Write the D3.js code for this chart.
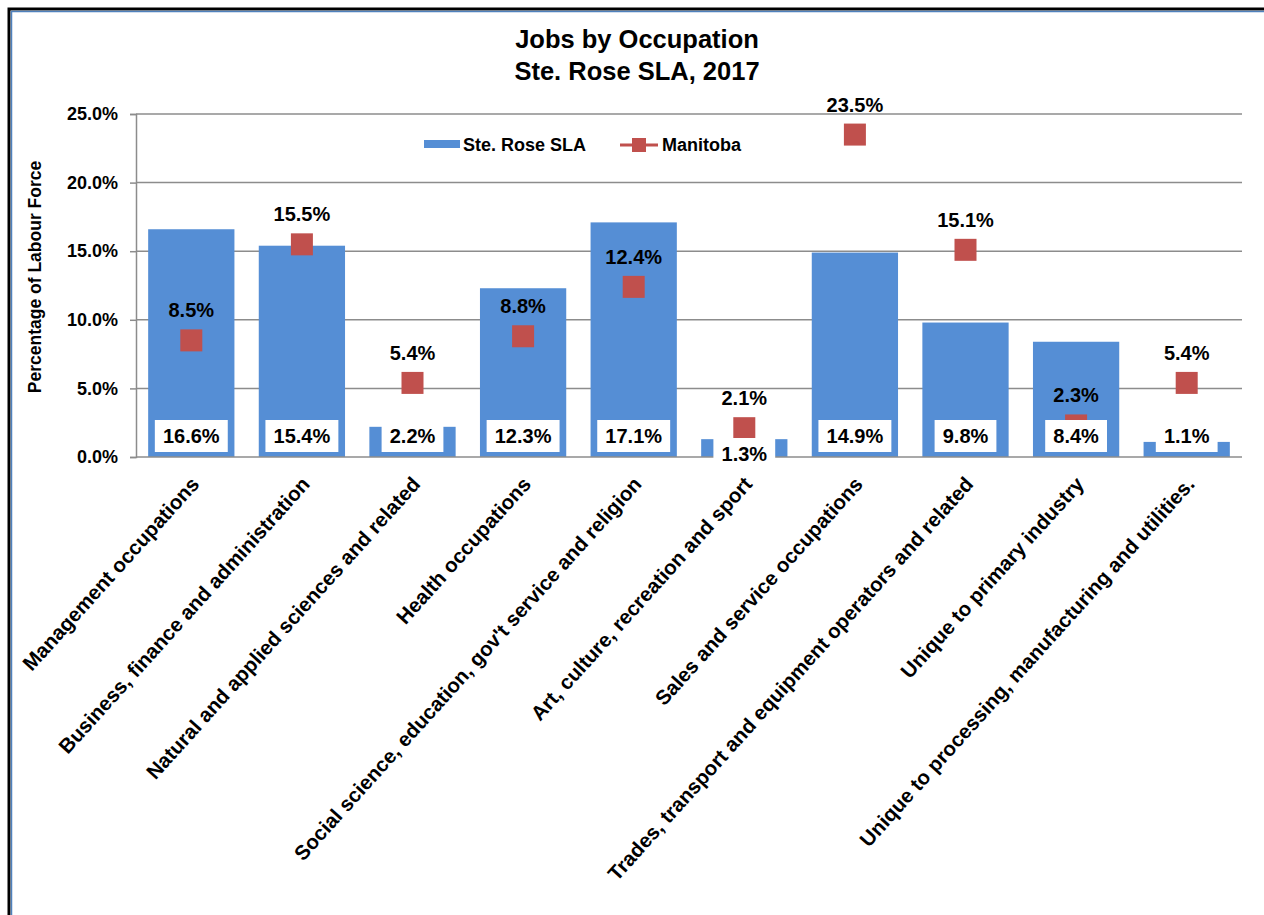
<!DOCTYPE html>
<html><head><meta charset="utf-8">
<script src="https://cdn.jsdelivr.net/npm/d3@7"></script>
<style>body{margin:0;background:#fff}svg{display:block}text{font-family:"Liberation Sans",Arial,sans-serif;font-weight:bold;fill:#000}</style>
</head><body>
<script>
const categories = ["Management occupations","Business, finance and administration","Natural and applied sciences and related","Health occupations","Social science, education, gov't service and religion","Art, culture, recreation and sport","Sales and service occupations","Trades, transport and equipment operators and related","Unique to primary industry","Unique to processing, manufacturing and utilities."];
const steRose = [16.6,15.4,2.2,12.3,17.1,1.3,14.9,9.8,8.4,1.1];
const manitoba = [8.5,15.5,5.4,8.8,12.4,2.1,23.5,15.1,2.3,5.4];
const yTicks = [0,5,10,15,20,25];
const seriesNames = ["Ste. Rose SLA","Manitoba"];
const titleLines = ["Jobs by Occupation","Ste. Rose SLA, 2017"];
const yTitle = "Percentage of Labour Force";

const W=1264,H=915;
const svg=d3.select("body").append("svg").attr("width",W).attr("height",H);
const m={l:136,r:1242,t:114,b:457};
const x=d3.scaleBand().domain(categories).range([m.l,m.r]).paddingInner(0.22).paddingOuter(0.11);
const y=d3.scaleLinear().domain([0,25]).range([m.b,m.t]);
const fmt=v=>v.toFixed(1)+"%";

// border
svg.append("path").attr("d",`M9,${H+5}V9H${W+5}`).attr("fill","none").attr("stroke","#000").attr("stroke-width",3);
svg.append("path").attr("d",`M11.5,${H+5}V11.5H${W+5}`).attr("fill","none").attr("stroke","#4f81bd").attr("stroke-width",1.5);

// title
svg.append("text").attr("x",637).attr("y",48).attr("text-anchor","middle").style("font-size","25.5px").text(titleLines[0]);
svg.append("text").attr("x",637).attr("y",80).attr("text-anchor","middle").style("font-size","25.5px").text(titleLines[1]);

// grid
const grid=svg.append("g");
grid.selectAll("line").data(yTicks.filter(d=>d>0)).join("line")
 .attr("x1",m.l).attr("x2",m.r).attr("y1",d=>y(d)).attr("y2",d=>y(d))
 .attr("stroke","#8c8c8c").attr("stroke-width",1.5);

// y axis
const ya=svg.append("g").attr("transform",`translate(${m.l},0)`)
 .call(d3.axisLeft(y).tickValues(yTicks).tickFormat(fmt).tickSize(6).tickPadding(12));
ya.select(".domain").attr("stroke","#8c8c8c").attr("stroke-width",1.5);
ya.selectAll(".tick line").attr("stroke","#8c8c8c").attr("stroke-width",1.5);
ya.selectAll(".tick text").style("font-size","18px").style("font-family","'Liberation Sans',Arial,sans-serif").style("font-weight","bold").attr("fill","#000");

svg.append("text").attr("transform",`translate(41,277) rotate(-90)`).attr("text-anchor","middle").style("font-size","17.5px").text(yTitle);

// bars
svg.selectAll("rect.bar").data(steRose).join("rect").attr("class","bar")
 .attr("x",(d,i)=>x(categories[i])).attr("width",x.bandwidth())
 .attr("y",d=>y(d)).attr("height",d=>y(0)-y(d)).attr("fill","#558ed5");

// x axis baseline
svg.append("line").attr("x1",m.l).attr("x2",m.r).attr("y1",y(0)).attr("y2",y(0)).attr("stroke","#8c8c8c").attr("stroke-width",1.5);

// markers
const ms=22;
svg.selectAll("rect.mk").data(manitoba).join("rect").attr("class","mk")
 .attr("x",(d,i)=>x(categories[i])+x.bandwidth()/2-ms/2).attr("y",d=>y(d)-ms/2)
 .attr("width",ms).attr("height",ms).attr("fill","#c0504d");
svg.selectAll("text.mkl").data(manitoba).join("text").attr("class","mkl")
 .attr("x",(d,i)=>x(categories[i])+x.bandwidth()/2).attr("y",d=>y(d)-30).attr("dy","0.35em")
 .attr("text-anchor","middle").style("font-size","20px").text(fmt);

// bar value boxes
const lowShift={"Art, culture, recreation and sport":18};
const bl=svg.selectAll("g.bl").data(steRose).join("g").attr("class","bl")
 .attr("transform",(d,i)=>`translate(${x(categories[i])+x.bandwidth()/2},${436+(lowShift[categories[i]]||0)})`);
bl.append("text").attr("text-anchor","middle").attr("dy","0.35em").style("font-size","20px").text(fmt)
 .each(function(){const bb=this.getBBox();d3.select(this.parentNode).insert("rect","text")
  .attr("x",-bb.width/2-8).attr("y",-16).attr("width",bb.width+16).attr("height",32).attr("fill","#fff");});

// x labels
svg.selectAll("text.xl").data(categories).join("text").attr("class","xl")
 .attr("transform",d=>`translate(${x(d)+x.bandwidth()/2+9},485) rotate(-48)`)
 .attr("text-anchor","end").style("font-size","20.5px").text(d=>d);

// legend
svg.append("rect").attr("x",424).attr("y",140).attr("width",36).attr("height",8).attr("fill","#558ed5");
svg.append("text").attr("x",463).attr("y",145).attr("dy","0.35em").style("font-size","18px").text(seriesNames[0]);
svg.append("line").attr("x1",620).attr("x2",658).attr("y1",145).attr("y2",145).attr("stroke","#c0504d").attr("stroke-width",3);
svg.append("rect").attr("x",632).attr("y",138).attr("width",14).attr("height",14).attr("fill","#c0504d");
svg.append("text").attr("x",662).attr("y",145).attr("dy","0.35em").style("font-size","18px").text(seriesNames[1]);
</script>
</body></html>
